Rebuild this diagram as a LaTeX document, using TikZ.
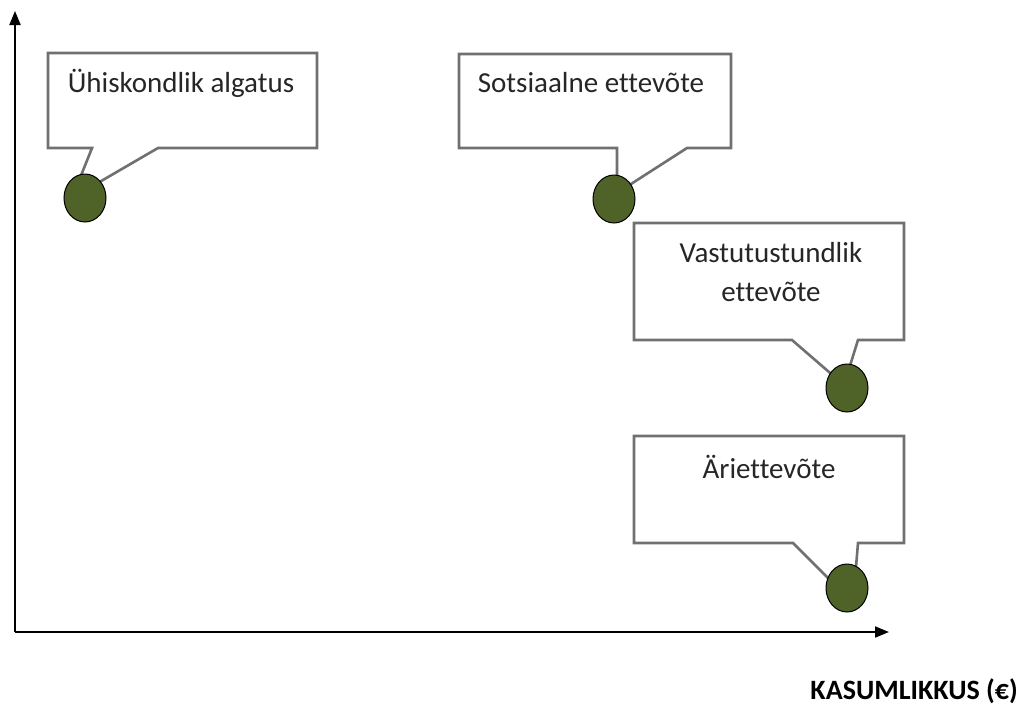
\documentclass[tikz,border=0pt]{standalone}
\usepackage{fontspec}
\setmainfont[Ligatures=CommonOff]{Carlito}
\usetikzlibrary{calc,shapes.geometric,arrows.meta}

\definecolor{dotgreen}{RGB}{79,98,40}
\definecolor{callgray}{RGB}{112,112,112}

\tikzset{
	dot/.style={ellipse, draw=black, line width=1pt, fill=dotgreen, minimum width=42pt, minimum height=48pt, inner sep=0pt},
	callout/.style={draw=callgray, line width=2.6pt, fill=white, line join=miter},
	calltext/.style={font=\fontsize{29}{39}\selectfont, text=black!85, align=center, inner sep=0pt},
}

\begin{document}
\begin{tikzpicture}[x=1pt, y=-1pt]
			%%%%% START %%%%%
			\useasboundingbox (0,0) rectangle (1021,705);
			
			% axes
			\coordinate (origin) at (15,632);
			\coordinate (ytop) at (15,11);
			\coordinate (xend) at (889,632);
			\draw[line width=2pt, -{Triangle[length=14pt,width=11pt]}] (origin) -- (ytop);
			\draw[line width=2pt, -{Triangle[length=14pt,width=11pt]}] (origin) -- (xend);
			\node[font=\fontsize{28}{32}\selectfont\bfseries, anchor=east, inner sep=0pt] (xlabel) at (1018,691) {KASUMLIKKUS (€)};
			
			% callouts
			\draw[callout] (48,53) -- (317,53) -- (317,148) -- (158,148) -- (72,198) -- (92,148) -- (48,148) -- cycle;
			\node[calltext] (algatus) at (181,83) {Ühiskondlik algatus};
			\node[dot] (d1) at (85,198) {};
			
			\draw[callout] (459,54) -- (731,54) -- (731,148) -- (687,148) -- (617,193) -- (617,148) -- (459,148) -- cycle;
			\node[calltext] (sotsiaalne) at (591,83) {Sotsiaalne ettevõte};
			\node[dot] (d2) at (614,199) {};
			
			\draw[callout] (634,223) -- (904,223) -- (904,340) -- (858,340) -- (844,385) -- (792,340) -- (634,340) -- cycle;
			\node[calltext] (vastutus) at (771,272) {Vastutustundlik\\ettevõte};
			\node[dot] (d3) at (847,388) {};
			
			\draw[callout] (634,436) -- (904,436) -- (904,543) -- (858,543) -- (853,603) -- (793,543) -- (634,543) -- cycle;
			\node[calltext] (ari) at (769,467) {Äriettevõte};
			\node[dot] (d4) at (847,588) {};
			
			%%%%% END %%%%%
\end{tikzpicture}
\end{document}
